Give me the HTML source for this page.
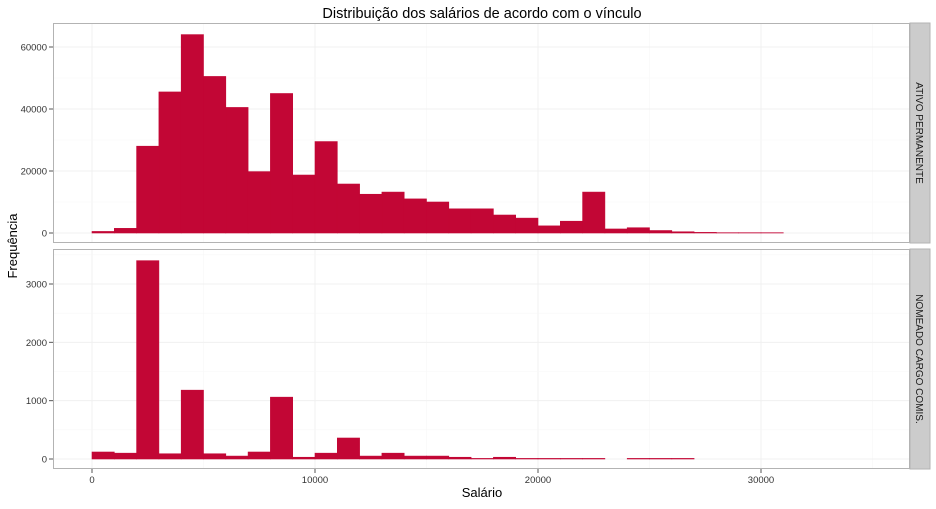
<!DOCTYPE html>
<html><head><meta charset="utf-8"><style>
body{margin:0;background:#fff;font-family:"Liberation Sans",sans-serif;}
svg text{font-family:"Liberation Sans",sans-serif;}
</style></head><body>
<svg id="c" width="936" height="504" xmlns="http://www.w3.org/2000/svg">
<text x="482" y="18" font-size="14.5" text-anchor="middle">Distribuição dos salários de acordo com o vínculo</text>
<text x="482" y="497" font-size="13" text-anchor="middle">Salário</text>
<text transform="translate(17,246) rotate(-90)" font-size="13" text-anchor="middle">Frequência</text>
</svg>
<script>
const binStarts=[0,1000,2000,3000,4000,5000,6000,7000,8000,9000,10000,11000,12000,13000,14000,15000,16000,17000,18000,19000,20000,21000,22000,23000,24000,25000,26000,27000,28000,29000,30000];
const ativoValues=[500,1500,28000,45500,64000,50500,40500,19800,45000,18700,29500,15800,12500,13200,11000,10000,7800,7800,5800,4800,2300,3800,13200,1300,1700,800,400,200,100,100,100];
const nomeadoValues=[120,100,3400,90,1180,90,50,120,1060,30,100,360,50,100,50,50,30,10,30,10,10,10,10,0,10,10,10,0,0,0,0];
const xTicks=[0,10000,20000,30000];
const ativoTicks=[0,20000,40000,60000];
const nomeadoTicks=[0,1000,2000,3000];
const panelNames=["ATIVO PERMANENTE","NOMEADO CARGO COMIS."];
const binWidth=1000;

const NS="http://www.w3.org/2000/svg";
const svg=document.getElementById('c');
const L=53,R=910;
const xs=v=>92+v*(315-92)/10000;
function mk(t,a,p){const e=document.createElementNS(NS,t);for(const k in a)e.setAttribute(k,a[k]);(p||svg).appendChild(e);return e;}
function panel(top,bot,zeroY,perUnit,vals,ticks,minorStep,label,idx){
  const ys=v=>zeroY-v*perUnit;
  const g=mk('g',{});
  
  
  mk('rect',{x:L,y:top,width:R-L,height:bot-top,fill:'#fff'},g);
  for(let v=-5000;v<=40000;v+=5000){const x=xs(v);if(x>L&&x<R)mk('line',{x1:x,x2:x,y1:top,y2:bot,stroke:v%10000===0?'#f0f0f0':'#f7f7f7','stroke-width':v%10000===0?1:0.6},g);}
  for(let v=-minorStep;v<=ticks[ticks.length-1]*1.3;v+=minorStep/2){const y=ys(v);if(y>top&&y<bot)mk('line',{x1:L,x2:R,y1:y,y2:y,stroke:(Math.round(v/minorStep)*minorStep===v)?'#f0f0f0':'#f7f7f7','stroke-width':(Math.round(v/minorStep)*minorStep===v)?1:0.6},g);}
  vals.forEach((v,i)=>{if(v<=0)return;const x0=xs(binStarts[i]),x1=xs(binStarts[i]+binWidth);
    const r=mk('rect',{x:x0,y:ys(v),width:x1-x0,height:zeroY-ys(v),fill:'#c20635',stroke:'#c20635','stroke-width':0.6},g);
    
    });
  mk('rect',{x:L+0.5,y:top+0.5,width:R-L-1,height:bot-top-1,fill:'none',stroke:'#b3b3b3'},g);
  ticks.forEach(t=>{const y=ys(t);mk('line',{x1:L-4,x2:L,y1:y,y2:y,stroke:'#555'},g);
    const tx=mk('text',{x:L-6,y:y+3.5,'font-size':9.5,'text-anchor':'end',fill:'#333'},g);tx.textContent=t;
    
    });
  const s=mk('rect',{x:R,y:top,width:20,height:bot-top,fill:'#cccccc',stroke:'#b3b3b3'},g);
  
  
  const st=mk('text',{transform:`translate(${R+6},${(top+bot)/2}) rotate(90)`,'font-size':10,'text-anchor':'middle',fill:'#1a1a1a'},g);
  st.textContent=label;
  
  
}
panel(23,243,233,186/60000,ativoValues,ativoTicks,20000,panelNames[0],0);
panel(249,469,459,175/3000,nomeadoValues,nomeadoTicks,1000,panelNames[1],1);
xTicks.forEach(t=>{const x=xs(t);mk('line',{x1:x,x2:x,y1:469,y2:473,stroke:'#555'});
  const tx=mk('text',{x:x,y:483,'font-size':9.5,'text-anchor':'middle',fill:'#333'});tx.textContent=t;
  
  });
</script>
</body></html>
